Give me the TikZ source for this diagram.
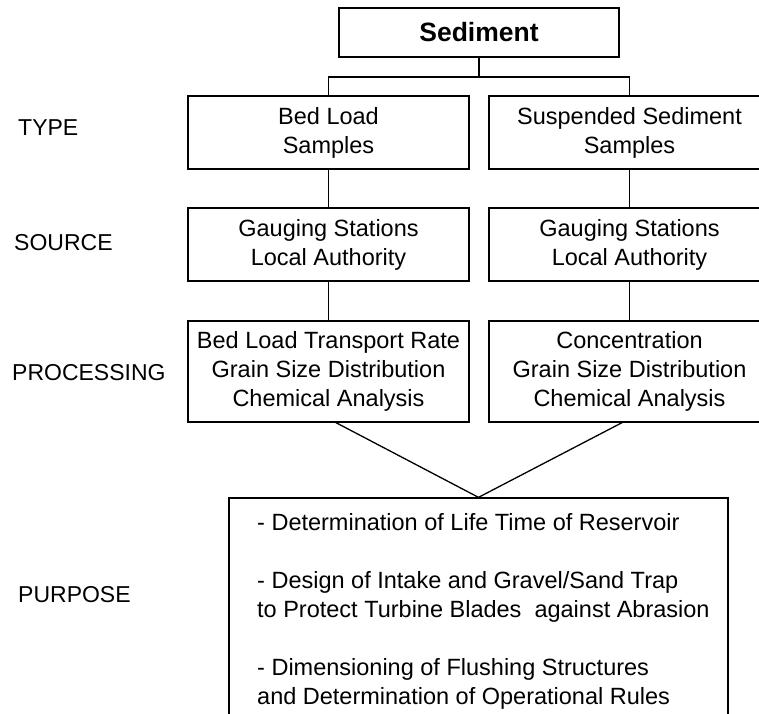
\documentclass[tikz,border=0pt]{standalone}
\usepackage{fontspec}
\setmainfont{Liberation Sans}
\usetikzlibrary{positioning}
\tikzset{
  box/.style={draw, line width=1.3pt, inner sep=0pt, align=center,
    minimum width=281pt, minimum height=73pt,
    font=\fontsize{23.5}{29}\selectfont},
  lbl/.style={anchor=west, inner sep=0pt, font=\fontsize{23}{29}\selectfont},
  link/.style={line width=1.3pt}
}
\begin{document}
\begin{tikzpicture}[x=1pt,y=-1pt]
  \useasboundingbox (0,0) rectangle (759,713);
  \clip (0,0) rectangle (759,713);
  \node[box, minimum width=280pt, minimum height=49pt,
    font=\fontsize{26.5}{30}\selectfont\bfseries] (sed) at (479,32.5) {Sediment};
  \node[box] (bed) at (328.5,132.5) {Bed Load\\Samples};
  \node[box] (sus) at (629.5,132.5) {Suspended Sediment\\Samples};
  \node[box] (srcbed) at (328.5,244.5) {Gauging Stations\\Local Authority};
  \node[box] (srcsus) at (629.5,244.5) {Gauging Stations\\Local Authority};
  \node[box, minimum height=101pt] (procbed) at (328.5,371.5)
    {Bed Load Transport Rate\\Grain Size Distribution\\Chemical Analysis};
  \node[box, minimum height=101pt] (procsus) at (629.5,371.5)
    {Concentration\\Grain Size Distribution\\Chemical Analysis};
  \node[box, minimum width=499pt, minimum height=232pt] (purp) at (478.5,614) {};
  \node[anchor=west, align=left, inner sep=0pt,
    font=\fontsize{23.5}{29}\selectfont] (purptxt) at (257,611)
    {- Determination of Life Time of Reservoir\\[29pt]
     - Design of Intake and Gravel/Sand Trap\\
     to Protect Turbine Blades\ \ against Abrasion\\[29pt]
     - Dimensioning of Flushing Structures\\
     and Determination of Operational Rules};
  \node[lbl] (type) at (18,128) {TYPE};
  \node[lbl] (source) at (14,243) {SOURCE};
  \node[lbl] (processing) at (12,373) {PROCESSING};
  \node[lbl] (purpose) at (18,595) {PURPOSE};
  \coordinate (fork) at (479,77);
  \draw[link] (sed.south) -- (fork);
  \draw[link] (bed.north) |- (fork) -| (sus.north);
  \draw[link] (bed) -- (srcbed);
  \draw[link] (sus) -- (srcsus);
  \draw[link] (srcbed) -- (procbed);
  \draw[link] (srcsus) -- (procsus);
  \draw[link] ([xshift=7.5pt]procbed.south) -- (purp.north) -- ([xshift=-7.5pt]procsus.south);
\end{tikzpicture}
\end{document}
